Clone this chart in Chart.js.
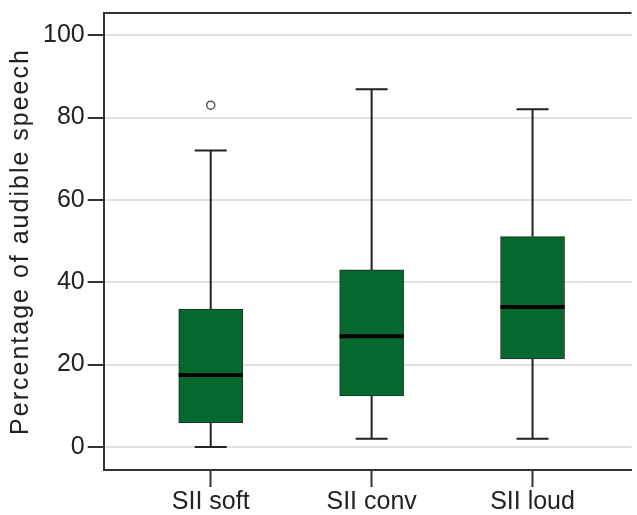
<!DOCTYPE html>
<html>
<head>
<meta charset="utf-8">
<script src="https://cdn.jsdelivr.net/npm/chart.js@4"></script>
<style>
  html, body { margin: 0; padding: 0; background: #fff; }
  #wrap { width: 637px; height: 515px; }
</style>
</head>
<body>
<div id="wrap"><canvas id="chart"></canvas></div>
<script>
// box plot values
const categories = ["SII soft", "SII conv", "SII loud"];
const whiskerLow = [0, 2, 2];
const q1 = [5.9, 12.4, 21.4];
const median = [17.5, 26.9, 34];
const q3 = [33.5, 43, 51.1];
const whiskerHigh = [72, 86.9, 82];
const outliers = [{ x: 0, y: 83 }];
const yTicks = [0, 20, 40, 60, 80, 100];

const boxGreen = "#05692f";
const lineDark = "#222";

// whiskers, caps and median lines drawn on the chart's scales
const boxPlotLines = {
  id: "boxPlotLines",
  beforeDatasetsDraw(chart) {
    const { ctx, scales: { x, y } } = chart;
    ctx.save();
    ctx.letterSpacing = "0px";
    ctx.strokeStyle = lineDark;
    ctx.lineWidth = 2;
    categories.forEach((_, i) => {
      const cx = x.getPixelForValue(i);
      const half = 16;
      ctx.beginPath();
      ctx.moveTo(cx, y.getPixelForValue(whiskerHigh[i]));
      ctx.lineTo(cx, y.getPixelForValue(q3[i]));
      ctx.moveTo(cx, y.getPixelForValue(q1[i]));
      ctx.lineTo(cx, y.getPixelForValue(whiskerLow[i]));
      ctx.moveTo(cx - half, y.getPixelForValue(whiskerHigh[i]));
      ctx.lineTo(cx + half, y.getPixelForValue(whiskerHigh[i]));
      ctx.moveTo(cx - half, y.getPixelForValue(whiskerLow[i]));
      ctx.lineTo(cx + half, y.getPixelForValue(whiskerLow[i]));
      ctx.stroke();
    });
    ctx.restore();
  },
  afterDatasetsDraw(chart) {
    const { ctx, chartArea, scales: { x, y } } = chart;
    ctx.save();
    ctx.strokeStyle = "#000";
    ctx.lineWidth = 4;
    categories.forEach((_, i) => {
      const cx = x.getPixelForValue(i);
      const py = y.getPixelForValue(median[i]);
      ctx.beginPath();
      ctx.moveTo(cx - 32, py);
      ctx.lineTo(cx + 32, py);
      ctx.stroke();
    });
    // top edge of the frame
    ctx.strokeStyle = "#333";
    ctx.lineWidth = 2;
    ctx.beginPath();
    ctx.moveTo(chartArea.left, chartArea.top);
    ctx.lineTo(chartArea.right, chartArea.top);
    ctx.stroke();
    ctx.restore();
  }
};

// wider spacing for the axis title only
const titleSpacing = {
  id: "titleSpacing",
  beforeDraw(chart) { chart.ctx.letterSpacing = "2px"; },
  beforeDatasetsDraw(chart) { chart.ctx.letterSpacing = "0px"; }
};

new Chart(document.getElementById("chart"), {
  type: "bar",
  plugins: [titleSpacing, boxPlotLines],
  data: {
    datasets: [
      {
        type: "bar",
        data: categories.map((_, i) => ({ x: i, y: [q1[i], q3[i]] })),
        backgroundColor: boxGreen,
        borderColor: "#1c3320",
        borderWidth: 1,
        borderSkipped: false,
        barThickness: 64,
        grouped: false
      },
      {
        type: "scatter",
        data: outliers,
        pointStyle: "circle",
        pointRadius: 4,
        pointBackgroundColor: "#fff",
        pointBorderColor: "#555",
        pointBorderWidth: 1.5
      }
    ]
  },
  options: {
    responsive: true,
    maintainAspectRatio: false,
    animation: false,
    layout: { padding: { left: 2, top: 7, right: -5, bottom: -3 } },
    plugins: { legend: { display: false }, tooltip: { enabled: false } },
    scales: {
      x: {
        type: "linear",
        offset: false,
        min: -0.665,
        max: 2.615,
        afterBuildTicks: (scale) => { scale.ticks = categories.map((_, i) => ({ value: i })); },
        ticks: {
          z: 1,
          color: lineDark,
          padding: 3,
          font: { family: "Liberation Sans", size: 25, lineHeight: 1 },
          callback: (v) => categories[v]
        },
        grid: { offset: false, drawOnChartArea: false, tickLength: 17, tickColor: "#333", tickWidth: 2 },
        border: { color: "#333", width: 2 }
      },
      y: {
        min: -5.6,
        max: 105.4,
        afterBuildTicks: (scale) => { scale.ticks = yTicks.map((v) => ({ value: v })); },
        ticks: {
          z: 1,
          color: lineDark,
          padding: 3,
          font: { family: "Liberation Sans", size: 25, lineHeight: 0.8 }
        },
        grid: { color: "#e0e0e0", lineWidth: 2, tickLength: 16, tickColor: "#333", tickWidth: 2 },
        border: { color: "#333", width: 2 },
        title: {
          display: true,
          text: "Percentage of audible speech",
          color: lineDark,
          padding: { top: 4, bottom: 4 },
          font: { family: "Liberation Sans", size: 25 }
        }
      }
    }
  }
});
</script>
</body>
</html>
